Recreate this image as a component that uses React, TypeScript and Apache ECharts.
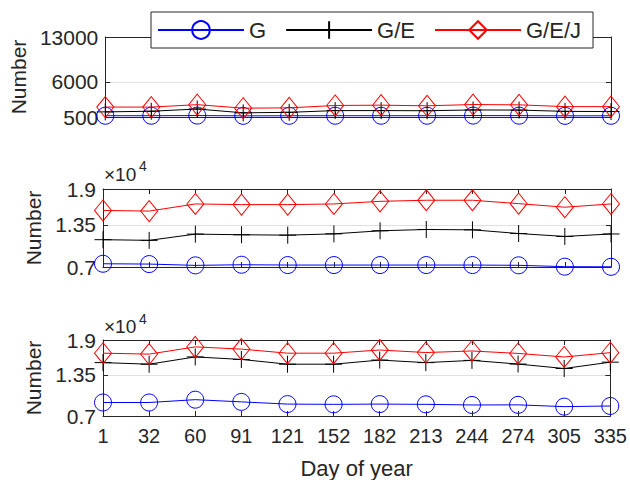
import React, { useEffect, useRef } from "react";
import * as echarts from "echarts";

const days = ["1", "32", "60", "91", "121", "152", "182", "213", "244", "274", "305", "335"];
const seriesNames = ["G", "G/E", "G/E/J"];

// Panel 1 (absolute numbers)
const p1G = [700, 700, 720, 680, 690, 700, 700, 700, 720, 710, 680, 690];
const p1GE = [1300, 1400, 1750, 1150, 1230, 1500, 1500, 1480, 1600, 1580, 1380, 1350];
const p1GEJ = [2050, 2050, 2430, 1880, 1930, 2300, 2350, 2250, 2450, 2400, 2120, 2120];

// Panel 2
const p2G = [7500, 7450, 7250, 7350, 7300, 7300, 7300, 7300, 7300, 7260, 7050, 7030];
const p2GE = [11200, 11100, 12060, 11960, 11900, 12100, 12570, 12770, 12720, 12150, 11700, 12080];
const p2GEJ = [15700, 15600, 16700, 16600, 16600, 16700, 17100, 17270, 17270, 16750, 16200, 16700];

// Panel 3
const p3G = [9130, 9130, 9580, 9230, 8880, 8840, 8880, 8840, 8740, 8760, 8480, 8580];
const p3GE = [15430, 15180, 16330, 15930, 15180, 15180, 15830, 15430, 15780, 15200, 14500, 15500];
const p3GEJ = [16920, 16770, 17910, 17560, 16920, 16920, 17420, 17020, 17270, 16880, 16320, 17000];

// Y tick values
const p1Ticks = [500, 6000, 13000];
const p23Ticks = [7000, 13500, 19000];

const FONT = "Liberation Sans, Arial, Helvetica, sans-serif";
const TXT = "#262626";

export default function App() {
  const ref = useRef<HTMLDivElement>(null);

  useEffect(() => {
    if (!ref.current) return;
    const chart = echarts.init(ref.current, null, { renderer: "svg" });

    const grids = [
      { left: 103, top: 37, width: 508, height: 80 },
      { left: 103, top: 189, width: 508, height: 78 },
      { left: 103, top: 340, width: 508, height: 79 },
    ];
    const ranges = [
      { min: 500, max: 13000, ticks: p1Ticks, fmt: (v: number) => String(v), gap: 70 },
      { min: 7000, max: 19000, ticks: p23Ticks, fmt: (v: number) => String(v / 10000), gap: 54 },
      { min: 7000, max: 19000, ticks: p23Ticks, fmt: (v: number) => String(v / 10000), gap: 54 },
    ];
    const data = [
      [p1G, p1GE, p1GEJ],
      [p2G, p2GE, p2GEJ],
      [p3G, p3GE, p3GEJ],
    ];

    const xAxis: any[] = [];
    const yAxis: any[] = [];
    const series: any[] = [];

    grids.forEach((_, i) => {
      const isLast = i === 2;
      xAxis.push({
        type: "category",
        gridIndex: i,
        data: days,
        boundaryGap: false,
        position: "bottom",
        axisLine: { show: true, lineStyle: { color: TXT, width: 1 } },
        axisTick: { show: true, inside: true, length: 5, interval: 0, lineStyle: { color: TXT } },
        axisLabel: {
          show: isLast,
          interval: 0,
          margin: 10,
          fontSize: 20,
          color: TXT,
          fontFamily: FONT,
        },
        splitLine: { show: false },
        name: isLast ? "Day of year" : "",
        nameLocation: "middle",
        nameGap: 41,
        nameTextStyle: { fontSize: 22, color: TXT, fontFamily: FONT },
      });
      xAxis.push({
        type: "category",
        gridIndex: i,
        data: days,
        boundaryGap: false,
        position: "top",
        axisLine: { show: true, lineStyle: { color: TXT, width: 1 } },
        axisTick: { show: true, inside: true, length: 5, interval: 0, lineStyle: { color: TXT } },
        axisLabel: { show: false },
        splitLine: { show: false },
      });
      const r = ranges[i];
      yAxis.push({
        type: "value",
        gridIndex: i,
        position: "left",
        min: r.min,
        max: r.max,
        axisLine: { show: true, lineStyle: { color: TXT, width: 1 } },
        axisTick: { show: true, inside: true, length: 5, customValues: r.ticks, lineStyle: { color: TXT } },
        axisLabel: {
          show: true,
          customValues: r.ticks,
          formatter: r.fmt,
          margin: 7,
          fontSize: 21,
          color: TXT,
          fontFamily: FONT,
        },
        splitLine: { show: true, lineStyle: { color: "#dfdfdf", width: 1 } },
        name: "Number",
        nameLocation: "middle",
        nameGap: r.gap,
        nameTextStyle: { fontSize: 21, color: TXT, fontFamily: FONT },
      });
      yAxis.push({
        type: "value",
        gridIndex: i,
        position: "right",
        min: r.min,
        max: r.max,
        axisLine: { show: true, lineStyle: { color: TXT, width: 1 } },
        axisTick: { show: true, inside: true, length: 5, customValues: r.ticks, lineStyle: { color: TXT } },
        axisLabel: { show: false, customValues: r.ticks },
        splitLine: { show: false },
      });

      const styles = [
        { name: "G", color: "#0000ff", symbol: "circle", symbolSize: 17 },
        { name: "G/E", color: "#000000", symbol: "path://M8,0L8,16M0,8L16,8", symbolSize: 17 },
        { name: "G/E/J", color: "#ff0000", symbol: "diamond", symbolSize: [17, 21] },
      ];
      styles.forEach((s, k) => {
        series.push({
          type: "line",
          name: s.name,
          xAxisIndex: i * 2,
          yAxisIndex: i * 2,
          data: data[i][k],
          symbol: s.symbol,
          symbolSize: s.symbolSize,
          showAllSymbol: true,
          clip: false,
          lineStyle: { color: s.color, width: 1 },
          itemStyle: { color: "rgba(255,255,255,0)", borderColor: s.color, borderWidth: 1 },
          emphasis: { disabled: true },
          z: 3 + k,
        });
      });
    });

    const graphic: any[] = [
      { type: "text", left: 104, top: 165, style: { text: "×10", fontSize: 19, fill: TXT, fontFamily: FONT } },
      { type: "text", left: 139, top: 159, style: { text: "4", fontSize: 14, fill: TXT, fontFamily: FONT } },
      { type: "text", left: 104, top: 317, style: { text: "×10", fontSize: 19, fill: TXT, fontFamily: FONT } },
      { type: "text", left: 139, top: 312, style: { text: "4", fontSize: 14, fill: TXT, fontFamily: FONT } },
    ];

    chart.setOption({
      animation: false,
      backgroundColor: "#ffffff",
      textStyle: { fontFamily: FONT },
      grid: grids,
      xAxis,
      yAxis,
      series,
      graphic,
      legend: {
        data: seriesNames,
        left: 151,
        top: 12,
        orient: "horizontal",
        padding: [7, 12, 7, 6],
        itemWidth: 86,
        itemHeight: 22,
        itemGap: 19,
        borderColor: TXT,
        borderWidth: 1,
        backgroundColor: "#ffffff",
        selectedMode: false,
        textStyle: { fontSize: 22, color: TXT, fontFamily: FONT },
        z: 10,
      },
    });

    return () => chart.dispose();
  }, []);

  return (
    <div
      ref={ref}
      style={{ position: "fixed", left: 0, top: 0, width: 630, height: 480, background: "#fff" }}
    />
  );
}
